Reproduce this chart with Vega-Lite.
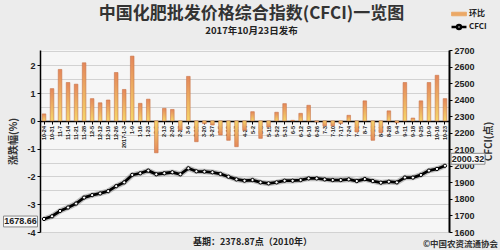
{
  "$schema": "https://vega.github.io/schema/vega-lite/v6.json",
  "width": 409,
  "height": 182,
  "autosize": {"type": "none"},
  "padding": {"left": 40, "top": 50, "right": 51, "bottom": 18},
  "background": "#ececec",
  "config": {"view": {"stroke": null, "fill": "#f6f6f6"}, "font": "Liberation Sans"},
  "title": {
    "text": "中国化肥批发价格综合指数(CFCI)一览图",
    "subtitle": "2017年10月23日发布",
    "font": "Noto Sans CJK SC", "fontSize": 17, "fontWeight": "bold", "color": "#333333",
    "subtitleFont": "Noto Sans CJK SC", "subtitleFontSize": 9.5, "subtitleFontWeight": "bold", "subtitleColor": "#222222",
    "subtitlePadding": 3, "anchor": "middle", "offset": -26, "dx": 7
  },
  "data": {"values": [
    {"d": "10-24", "pct": 0.25, "cfci": 1678.66},
    {"d": "10-31", "pct": 1.16, "cfci": 1695},
    {"d": "11-7", "pct": 1.85, "cfci": 1727},
    {"d": "11-14", "pct": 1.38, "cfci": 1748},
    {"d": "11-21", "pct": 1.32, "cfci": 1772},
    {"d": "11-28", "pct": 2.09, "cfci": 1808},
    {"d": "12-5", "pct": 0.80, "cfci": 1823},
    {"d": "12-12", "pct": 0.65, "cfci": 1833},
    {"d": "12-19", "pct": 0.75, "cfci": 1847},
    {"d": "12-26", "pct": 1.74, "cfci": 1877},
    {"d": "2017-1-3", "pct": 1.13, "cfci": 1900},
    {"d": "1-9", "pct": 2.33, "cfci": 1945},
    {"d": "1-16", "pct": 0.63, "cfci": 1955},
    {"d": "1-23", "pct": 0.78, "cfci": 1971},
    {"d": "2-6", "pct": -1.15, "cfci": 1949},
    {"d": "2-13", "pct": 0.45, "cfci": 1955},
    {"d": "2-20", "pct": 0.41, "cfci": 1961},
    {"d": "2-27", "pct": -0.33, "cfci": 1949},
    {"d": "3-6", "pct": 1.60, "cfci": 1985},
    {"d": "3-13", "pct": -0.75, "cfci": 1967},
    {"d": "3-20", "pct": -0.10, "cfci": 1965},
    {"d": "3-27", "pct": -0.15, "cfci": 1961},
    {"d": "4-5", "pct": -0.51, "cfci": 1951},
    {"d": "4-10", "pct": -0.70, "cfci": 1934},
    {"d": "4-17", "pct": -0.93, "cfci": 1918},
    {"d": "4-24", "pct": -0.34, "cfci": 1910},
    {"d": "5-2", "pct": 0.33, "cfci": 1914},
    {"d": "5-8", "pct": -0.63, "cfci": 1900},
    {"d": "5-15", "pct": -0.22, "cfci": 1894},
    {"d": "5-22", "pct": 0.31, "cfci": 1900},
    {"d": "5-31", "pct": 0.62, "cfci": 1910},
    {"d": "6-5", "pct": 0.02, "cfci": 1910},
    {"d": "6-12", "pct": 0.27, "cfci": 1914},
    {"d": "6-19", "pct": 0.56, "cfci": 1924},
    {"d": "6-26", "pct": -0.04, "cfci": 1924},
    {"d": "7-3", "pct": -0.18, "cfci": 1918},
    {"d": "7-10", "pct": -0.18, "cfci": 1914},
    {"d": "7-17", "pct": -0.10, "cfci": 1914},
    {"d": "7-24", "pct": 0.20, "cfci": 1918},
    {"d": "7-31", "pct": -0.40, "cfci": 1908},
    {"d": "8-7", "pct": 0.72, "cfci": 1920},
    {"d": "8-14", "pct": -0.70, "cfci": 1908},
    {"d": "8-21", "pct": -0.43, "cfci": 1898},
    {"d": "8-28", "pct": 0.36, "cfci": 1904},
    {"d": "9-4", "pct": -0.07, "cfci": 1900},
    {"d": "9-11", "pct": 1.38, "cfci": 1929},
    {"d": "9-18", "pct": 0.10, "cfci": 1929},
    {"d": "9-25", "pct": 0.72, "cfci": 1945},
    {"d": "10-9", "pct": 1.38, "cfci": 1971},
    {"d": "10-16", "pct": 1.64, "cfci": 1981},
    {"d": "10-23", "pct": 0.80, "cfci": 2000.32}
  ]},
  "layer": [
    {
      "mark": {"type": "bar", "stroke": "#c8764a", "strokeWidth": 0.6},
      "encoding": {
        "x": {
          "field": "d", "type": "nominal", "sort": null,
          "scale": {"paddingInner": 0.55, "paddingOuter": 0.275},
          "axis": {
            "orient": "bottom",
            "title": "基期：2378.87点（2010年）",
            "titleFont": "Noto Sans CJK SC", "titleFontSize": 9, "titleFontWeight": "bold", "titleColor": "#222222",
            "titleX": 212, "titleY": 120, "titleBaseline": "middle", "titleAlign": "center", "titleAnchor": "middle",
            "offset": -111, "labelAngle": 270, "labelFontSize": 5.5, "labelFontWeight": "bold", "labelColor": "#222222",
            "labelPadding": 1.5, "labelOverlap": false, "tickSize": 3, "tickColor": "#000000",
            "domainColor": "#000000", "domainWidth": 1.5, "grid": false
          }
        },
        "y": {
          "field": "pct", "type": "quantitative",
          "scale": {"domain": [-4, 2.55], "nice": false, "zero": false},
          "axis": {
            "title": "涨跌幅(%)",
            "values": [-4, -3.5, -3, -2.5, -2, -1.5, -1, -0.5, 0, 0.5, 1, 1.5, 2, 2.5],
            "labelExpr": "datum.value % 1 === 0 ? (datum.value < 0 ? '-' + abs(datum.value) : '' + datum.value) : ''",
            "tickOpacity": {"condition": {"test": "datum.value % 1 !== 0", "value": 0}, "value": 1},
            "grid": true, "gridColor": "#d2d2d2", "gridWidth": 1,
            "domainColor": "#000000", "domainWidth": 1.5, "tickColor": "#000000", "tickSize": 3,
            "labelFontSize": 9, "labelFontWeight": "bold", "labelColor": "#222222", "labelPadding": 2,
            "titleFont": "Noto Sans CJK SC", "titleFontSize": 10, "titleFontWeight": "bold", "titleColor": "#333333",
            "titlePadding": 8
          }
        },
        "fill": {
          "condition": {
            "test": "datum.pct < 0",
            "value": {"gradient": "linear", "x1": 0, "y1": 0, "x2": 0, "y2": 1,
              "stops": [{"offset": 0, "color": "#f5d66a"}, {"offset": 1, "color": "#e4875a"}]}
          },
          "value": {"gradient": "linear", "x1": 0, "y1": 0, "x2": 0, "y2": 1,
            "stops": [{"offset": 0, "color": "#e4875a"}, {"offset": 1, "color": "#f5d66a"}]}
        }
      }
    },
    {
      "encoding": {
        "x": {
          "field": "d", "type": "nominal", "sort": null,
          "axis": {
            "orient": "bottom",
            "title": "©中国农资流通协会", "labels": false, "ticks": false, "domain": false, "grid": false,
            "titleFont": "Noto Sans CJK SC", "titleFontSize": 8.5, "titleFontWeight": "bold", "titleColor": "#333333",
            "titleX": 420, "titleY": 11, "titleBaseline": "middle", "titleAlign": "center", "titleAnchor": "middle"
          }
        },
        "y": {
          "field": "cfci", "type": "quantitative",
          "scale": {"domain": [1600, 2700], "nice": false, "zero": false},
          "axis": {
            "orient": "right", "title": "CFCI(点)", "titleAngle": 270,
            "titleX": 39, "titleY": 91, "titleBaseline": "middle", "titleAlign": "center",
            "values": [1600, 1700, 1800, 1900, 2000, 2100, 2200, 2300, 2400, 2500, 2600, 2700],
            "format": "d",
            "grid": false, "domainColor": "#000000", "domainWidth": 2, "tickColor": "#000000", "tickSize": 3,
            "labelFontSize": 9, "labelFontWeight": "bold", "labelColor": "#222222", "labelPadding": 2,
            "titleFont": "Noto Sans CJK SC", "titleFontSize": 10, "titleFontWeight": "bold", "titleColor": "#333333"
          }
        }
      },
      "layer": [
        {"mark": {"type": "line", "stroke": "#777777", "strokeWidth": 5.5, "opacity": 0.45}},
        {
          "mark": {"type": "line", "strokeWidth": 2.8},
          "encoding": {
            "color": {
              "datum": "CFCI",
              "scale": {"domain": ["环比", "CFCI"], "range": ["#eba866", "#000000"]},
              "legend": {
                "title": null, "orient": "none", "legendX": 415, "legendY": -40, "padding": 0,
                "labelFont": "Noto Sans CJK SC", "labelFontSize": 8, "labelFontWeight": "bold", "labelColor": "#222222",
                "labelOffset": 6, "symbolSize": 169, "rowPadding": 2,
                "encode": {"symbols": {"update": {
                  "shape": {"signal": "datum.value === 'CFCI' ? 'M-1.15,0H-0.3M0.3,0H1.15M-0.3,0A0.3,0.3,0,1,1,0.3,0A0.3,0.3,0,1,1,-0.3,0Z' : 'M-1.15,-0.28H1.15V0.28H-1.15Z'"},
                  "fill": {"signal": "datum.value === 'CFCI' ? '#ffffff' : '#eba866'"},
                  "stroke": {"signal": "datum.value === 'CFCI' ? '#000000' : '#c8764a'"},
                  "strokeWidth": {"signal": "datum.value === 'CFCI' ? 2.5 : 0.8"},
                  "opacity": {"value": 1},
                  "fillOpacity": {"value": 1}
                }}}
              }
            }
          }
        },
        {"mark": {"type": "point", "filled": true, "fill": "#ffffff", "stroke": "#000000", "strokeWidth": 1, "size": 11, "opacity": 1}},
        {
          "transform": [{"filter": "datum.d === '10-24'"}],
          "mark": {"type": "point", "shape": "M-1,-0.32H1V0.32H-1Z", "size": 1156, "filled": true, "fill": "#f8f8f8", "stroke": "#8a8a8a", "strokeWidth": 1, "opacity": 1, "xOffset": -23.5, "yOffset": 2.5}
        },
        {
          "transform": [{"filter": "datum.d === '10-24'"}],
          "mark": {"type": "text", "font": "Liberation Sans", "fontSize": 9, "fontWeight": "bold", "color": "#222222", "dx": -23.5, "dy": 2.5, "align": "center", "baseline": "middle"},
          "encoding": {"text": {"field": "cfci", "type": "quantitative", "format": ".2f"}}
        },
        {
          "transform": [{"filter": "datum.d === '10-23'"}],
          "mark": {"type": "point", "shape": "M-1,-0.32H1V0.32H-1Z", "size": 1156, "filled": true, "fill": "#f8f8f8", "stroke": "#8a8a8a", "strokeWidth": 1, "opacity": 1, "xOffset": 23, "yOffset": -7}
        },
        {
          "transform": [{"filter": "datum.d === '10-23'"}],
          "mark": {"type": "text", "font": "Liberation Sans", "fontSize": 9, "fontWeight": "bold", "color": "#222222", "dx": 23, "dy": -7, "align": "center", "baseline": "middle"},
          "encoding": {"text": {"field": "cfci", "type": "quantitative", "format": ".2f"}}
        }
      ]
    }
  ],
  "resolve": {"scale": {"y": "independent"}, "axis": {"x": "independent"}}
}
